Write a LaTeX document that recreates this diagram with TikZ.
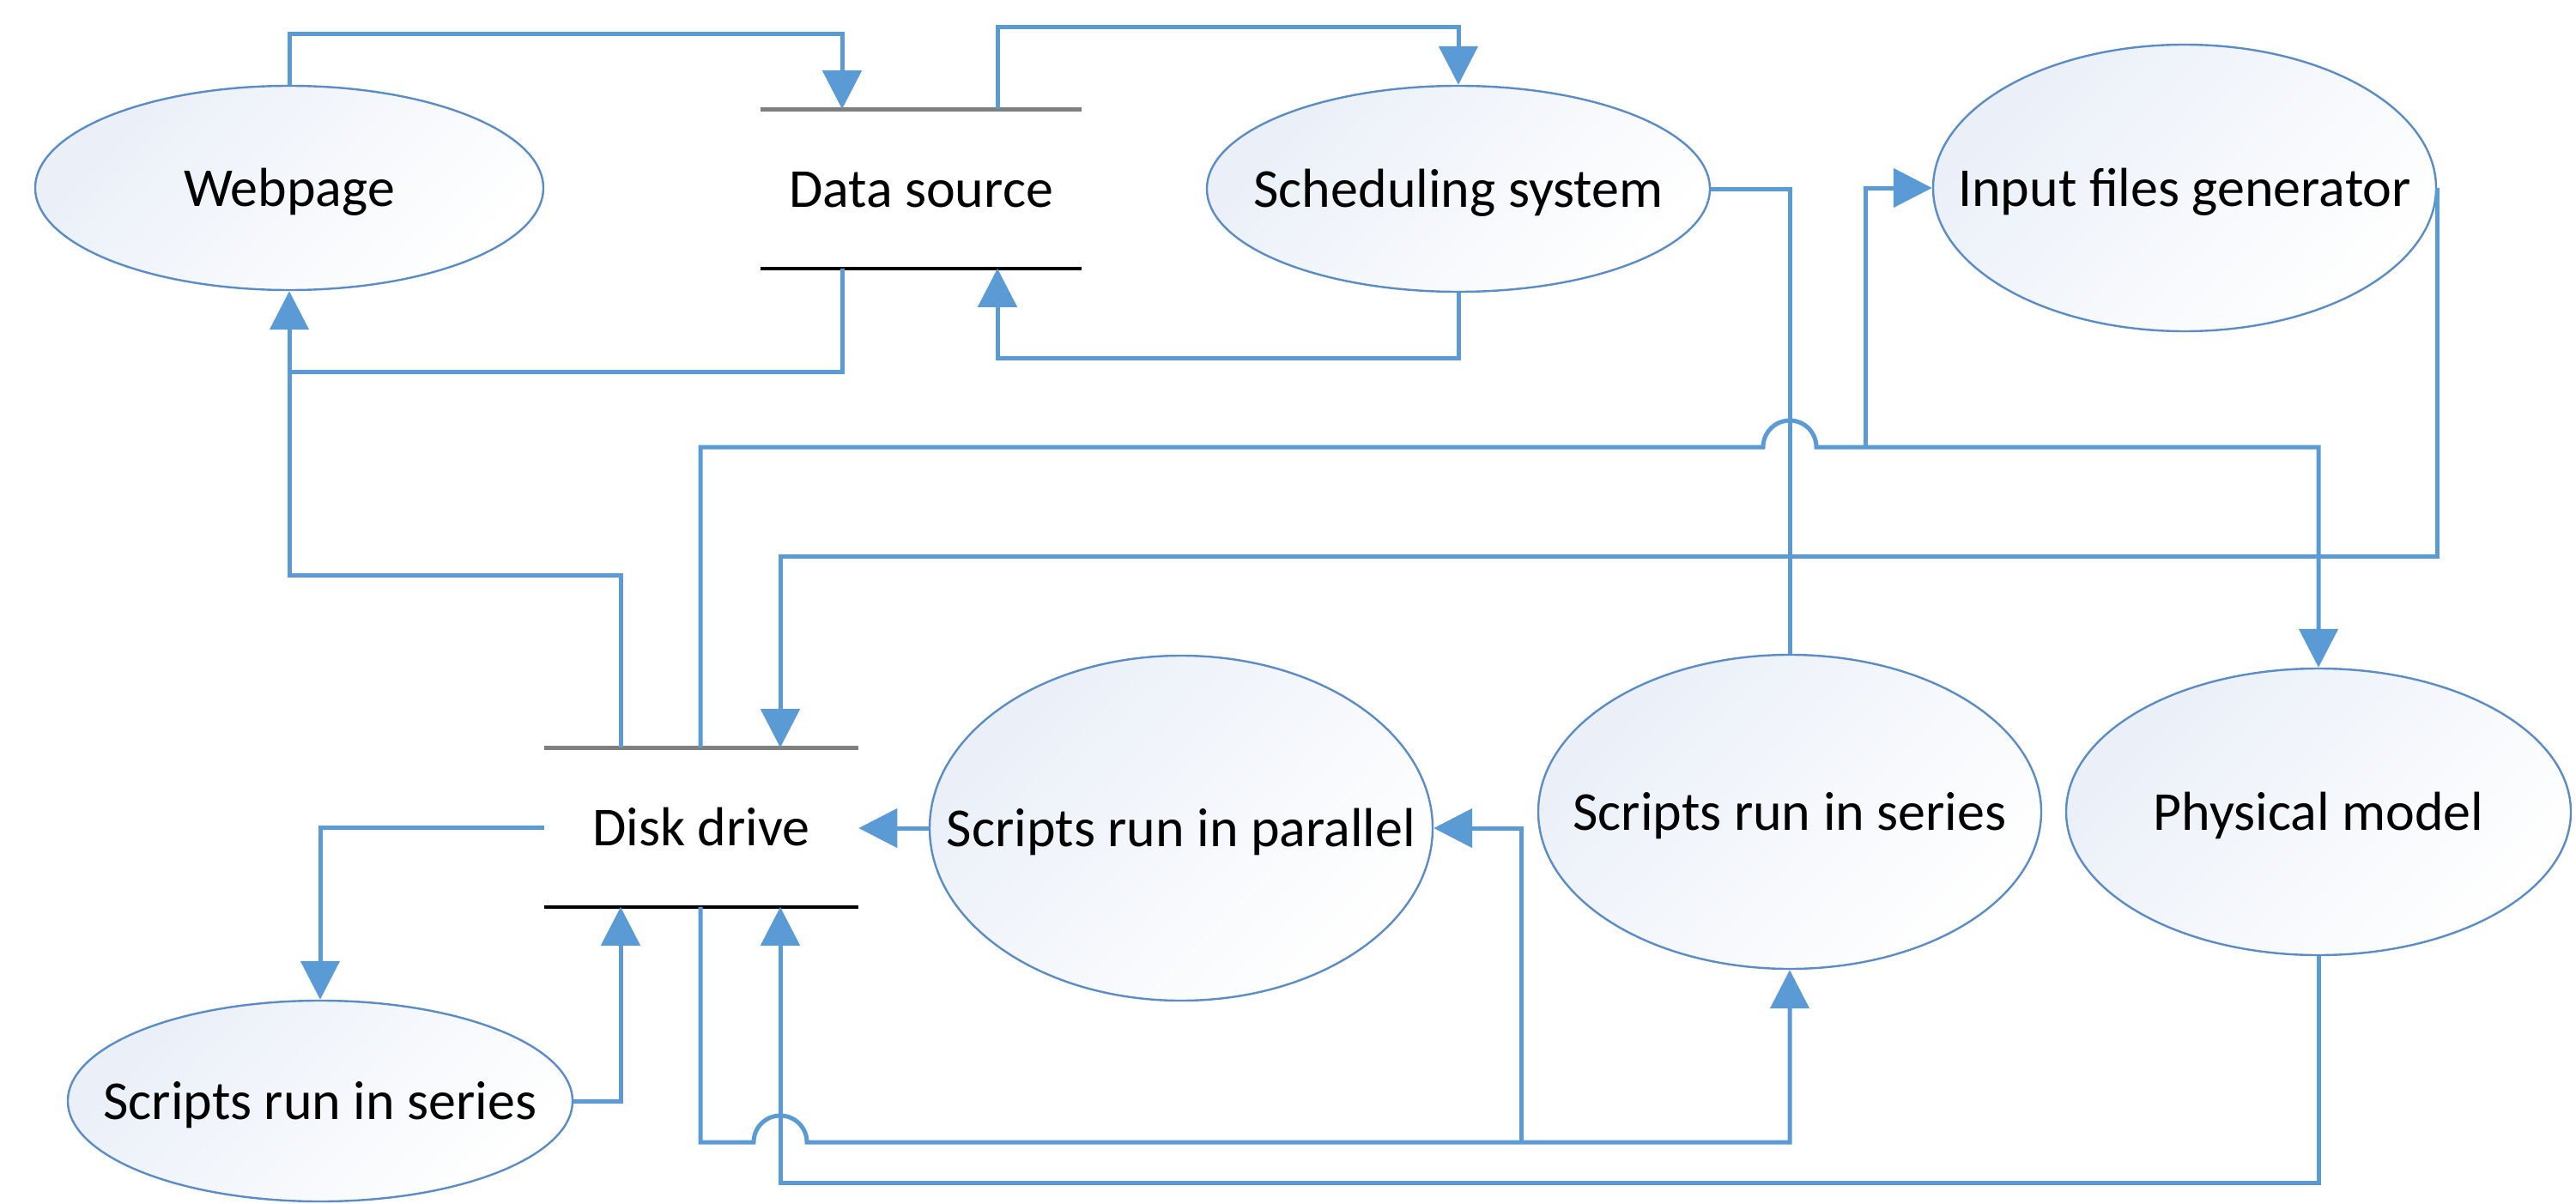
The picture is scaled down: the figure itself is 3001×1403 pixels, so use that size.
\documentclass[tikz,border=0pt]{standalone}
\usepackage{fontspec}
\setmainfont{Carlito}
\usetikzlibrary{shapes.geometric,arrows.meta,calc}
\definecolor{flowc}{HTML}{5B9BD5}
\definecolor{ellline}{HTML}{5A8CC8}
\definecolor{ellfill}{RGB}{234,239,248}
\definecolor{storegray}{HTML}{7F7F7F}
\begin{document}
\begin{tikzpicture}[x=0.25pt,y=-0.25pt,
  proc/.style={ellipse, draw=ellline, line width=0.6pt, top color=ellfill, bottom color=white, shading angle=45,
    inner sep=0pt, text height=10.5pt, text depth=0pt, font=\fontsize{16pt}{19pt}\selectfont},
  store/.style={rectangle, inner sep=0pt, minimum height=46pt, text height=10.5pt, text depth=0pt,
    font=\fontsize{16pt}{19pt}\selectfont},
  flow/.style={draw=flowc, line width=1.25pt},
  tip/.style={-{Triangle[length=11.25pt,width=11.25pt]}}]
\useasboundingbox (0,0) rectangle (3001,1403);

% processes
\node[proc, minimum width=148pt, minimum height=59.5pt] (wp) at (337,219) {\makebox[0pt]{Webpage}};
\node[proc, minimum width=146.5pt, minimum height=60pt] (sch) at (1699,220) {\makebox[0pt]{Scheduling system}};
\node[proc, minimum width=146.5pt, minimum height=83.5pt] (ifg) at (2545,219) {\makebox[0pt]{Input files generator}};
\node[proc, minimum width=146.5pt, minimum height=100.5pt] (spar) at (1376,965) {\makebox[0pt]{Scripts run in parallel}};
\node[proc, minimum width=146.5pt, minimum height=91.5pt] (sms) at (2085,946) {\makebox[0pt]{Scripts run in series}};
\node[proc, minimum width=147pt, minimum height=83.5pt] (pm) at (2701,946) {\makebox[0pt]{Physical model}};
\node[proc, minimum width=147pt, minimum height=58.5pt] (sls) at (373,1283) {\makebox[0pt]{Scripts run in series}};

% data stores
\node[store, minimum width=93pt] (ds) at (1073,220) {Data source};
\draw[storegray, line width=1.3pt] (ds.north west) -- (ds.north east);
\draw[black, line width=0.85pt] (ds.south west) -- (ds.south east);
\node[store, minimum width=91.25pt] (dd) at (817,964) {Disk drive};
\draw[storegray, line width=1.3pt] (dd.north west) -- (dd.north east);
\draw[black, line width=0.85pt] (dd.south west) -- (dd.south east);

% connectors
\draw[flow,tip] (wp.north) |- (981,39) -- (ds.north -| 981,0);
\draw[flow,tip] (ds.north -| 1162,0) |- (1699,31) -- (sch.north);
\draw[flow,tip] (sch.south) |- (1162,417) -- (ds.south -| 1162,0);
\draw[flow] (ds.south -| 981,0) |- (337,433);
\draw[flow,tip] (dd.north -| 723,0) |- (337,670) -- (wp.south);
\draw[flow,tip] (dd.north -| 816,0) |- (2054,521) arc[start angle=180,end angle=360,radius=31]
  -- (pm.north |- 0,521) -- (pm.north);
\draw[flow,tip] (2173,521) |- (ifg.west);
\draw[flow,tip] (ifg.east) |- (909,648) -- (dd.north -| 909,0);
\draw[flow] (sch.east) -| (sms.north);
\draw[flow,tip] (spar.west) -- (spar.west -| dd.east);
\draw[flow,tip] (dd.south -| 816,0) |- (878,1331) arc[start angle=180,end angle=360,radius=31]
  -- (sms.south |- 0,1331) -- (sms.south);
\draw[flow,tip] (1772,1331) |- (spar.east);
\draw[flow,tip] (pm.south) |- (909,1378) -- (dd.south -| 909,0);
\draw[flow,tip] (dd.west) -| (sls.north);
\draw[flow,tip] (sls.east) -| (dd.south -| 723,0);
\end{tikzpicture}
\end{document}
